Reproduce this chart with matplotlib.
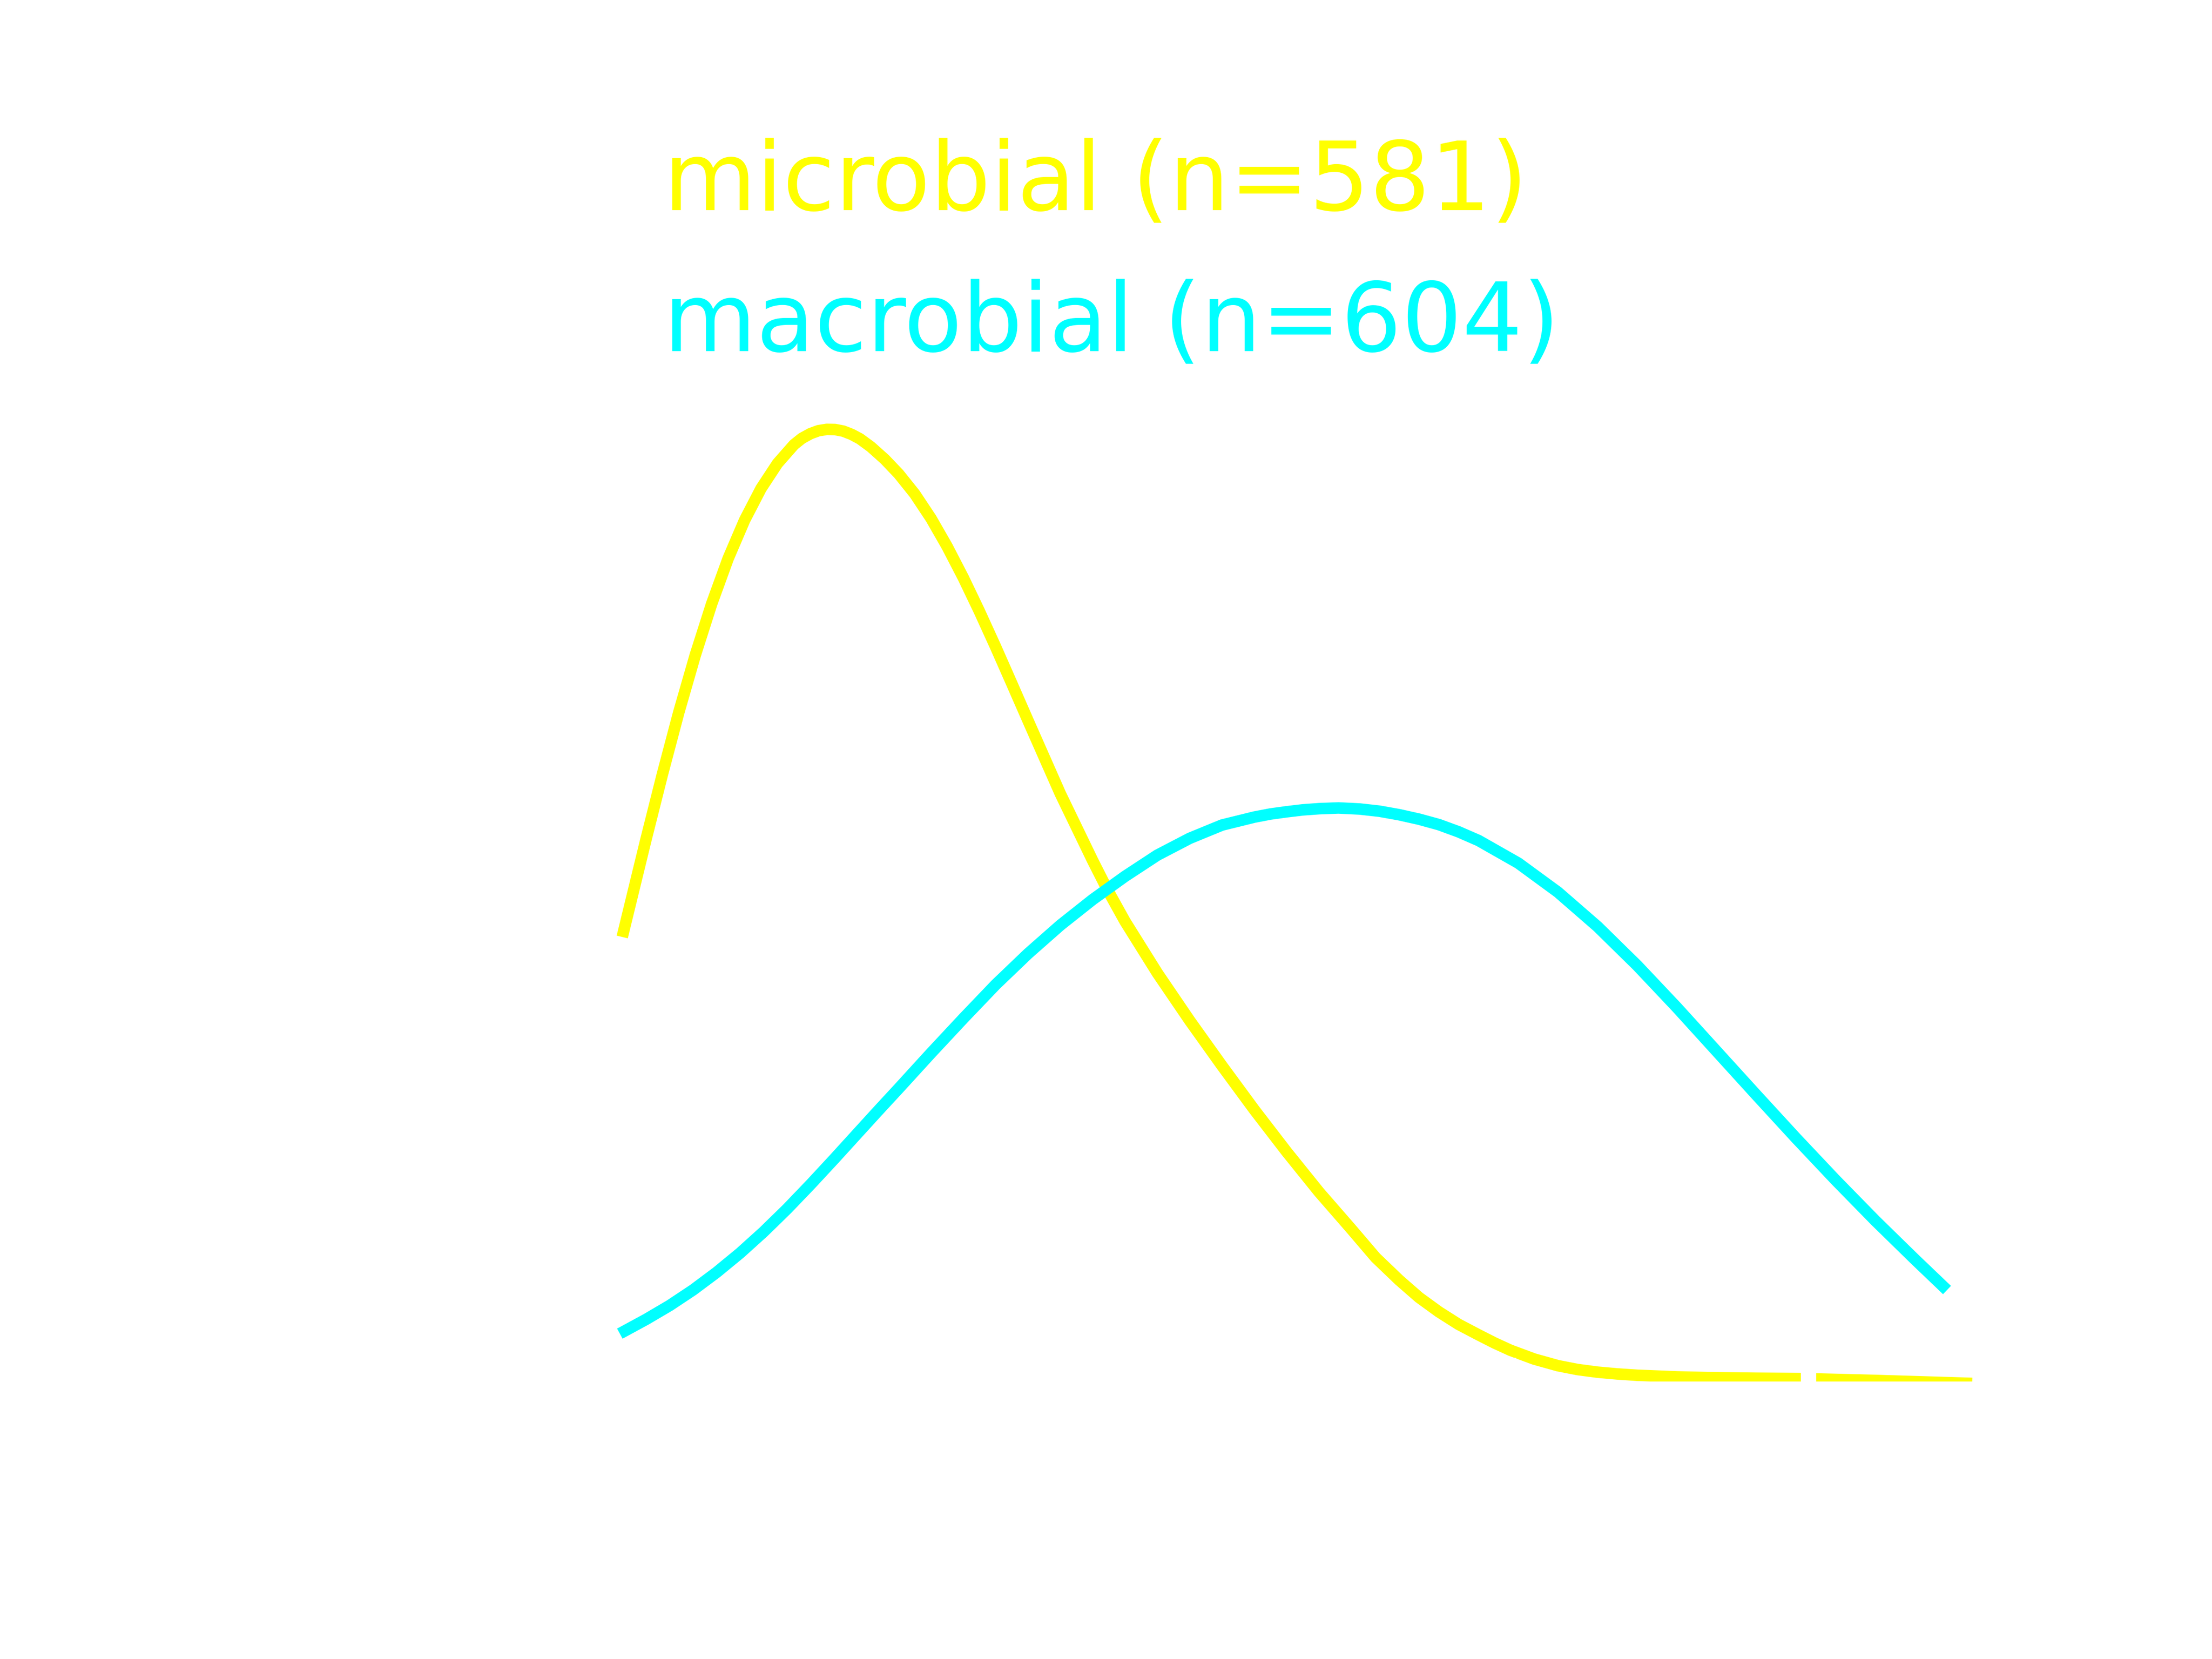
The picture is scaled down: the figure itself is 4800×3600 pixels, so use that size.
import matplotlib
matplotlib.use("Agg")
import matplotlib.pyplot as plt

# density curves (the axes themselves are white on white)
microbial_x = [1.0518, 1.1258, 1.1806, 1.2356, 1.2905, 1.3453, 1.4002, 1.4550, 1.5098, 1.5647,
               1.6196, 1.6459, 1.6745, 1.7012, 1.7289, 1.7565, 1.7842, 1.8118, 1.8395, 1.8763,
               1.9224, 1.9688, 2.0223, 2.0765, 2.1298, 2.1843, 2.2373, 2.2920, 2.3449, 2.3998,
               2.5075, 2.6154, 2.6638, 2.7230, 2.8309, 2.9386, 3.0464, 3.1541, 3.2619, 3.3696,
               3.4774, 3.5584, 3.6369, 3.7028, 3.7691, 3.8349, 3.9014, 3.9547, 4.0072, 4.0868,
               4.1659, 4.2312, 4.2982, 4.3642, 4.4304, 4.5627, 4.6949, 4.8272, 4.9726, 5.2235,
               5.5276]
microbial_y = [0.3073, 0.3691, 0.4134, 0.4557, 0.4945, 0.5294, 0.5601, 0.5861, 0.6076, 0.6246,
               0.6373, 0.6416, 0.6448, 0.6468, 0.6477, 0.6476, 0.6465, 0.6443, 0.6413, 0.6358,
               0.6274, 0.6175, 0.6039, 0.5873, 0.5684, 0.5470, 0.5245, 0.5001, 0.4757, 0.4502,
               0.4006, 0.3552, 0.3358, 0.3141, 0.2790, 0.2468, 0.2161, 0.1863, 0.1578, 0.1306,
               0.1054, 0.0861, 0.0708, 0.0591, 0.0493, 0.0408, 0.0337, 0.0282, 0.0233, 0.0173,
               0.0128, 0.0102, 0.0084, 0.0072, 0.0063, 0.0052, 0.0046, 0.0043, 0.0041, 0.0028,
               0.0009]

macrobial_x = [1.0561, 1.1267, 1.2052, 1.2836, 1.3619, 1.4402, 1.5186, 1.5971, 1.6754, 1.7538,
               1.8321, 1.9002, 1.9688, 2.0765, 2.1843, 2.2920, 2.3998, 2.5075, 2.6154, 2.7230,
               2.8309, 2.9386, 3.0464, 3.1541, 3.2081, 3.2619, 3.3157, 3.3696, 3.4343, 3.5046,
               3.5707, 3.6369, 3.7028, 3.7691, 3.8349, 3.9014, 4.0337, 4.1659, 4.2982, 4.4304,
               4.5627, 4.6949, 4.8272, 4.9595, 5.0917, 5.2240, 5.3562, 5.4488]
macrobial_y = [0.0364, 0.0442, 0.0536, 0.0642, 0.0761, 0.0892, 0.1036, 0.1192, 0.1358, 0.1530,
               0.1705, 0.1857, 0.2008, 0.2248, 0.2483, 0.2712, 0.2922, 0.3115, 0.3289, 0.3446,
               0.3590, 0.3704, 0.3794, 0.3848, 0.3869, 0.3884, 0.3897, 0.3905, 0.3910, 0.3903,
               0.3888, 0.3864, 0.3834, 0.3797, 0.3748, 0.3689, 0.3536, 0.3339, 0.3105, 0.2841,
               0.2556, 0.2260, 0.1964, 0.1671, 0.1386, 0.1111, 0.0848, 0.0668]

labels = ["microbial (n=581)", "macrobial (n=604)"]
colors = ["#ffff00", "#00ffff"]
x_ticks = [1, 2, 3, 4, 5]

fig, ax = plt.subplots(figsize=(4, 3), dpi=1200)
fig.patch.set_facecolor("white")
fig.subplots_adjust(left=0.25156, right=0.91931, bottom=0.16542, top=0.77167)
ax.set_facecolor("white")

ax.plot(microbial_x, microbial_y, color=colors[0], lw=1.5)
ax.plot(macrobial_x, macrobial_y, color=colors[1], lw=1.5)
ax.set_xlim(0.828, 5.751)
ax.set_ylim(0, 0.682)

# white axes (dark-theme export): ticks sit on top of the lines
ax.set_axisbelow(False)
for s in ax.spines.values():
    s.set_color("white")
ax.set_xticks(x_ticks)
ax.tick_params(axis="x", direction="in", length=3.5, width=2, color="white", labelbottom=False)
ax.tick_params(axis="y", direction="in", color="white", labelleft=False)

fig.text(0.3, 0.8736, labels[0], color=colors[0], fontsize=12.4, va="baseline")
fig.text(0.3, 0.7886, labels[1], color=colors[1], fontsize=12.4, va="baseline")

fig.savefig("out.png", dpi=1200, facecolor="white")
